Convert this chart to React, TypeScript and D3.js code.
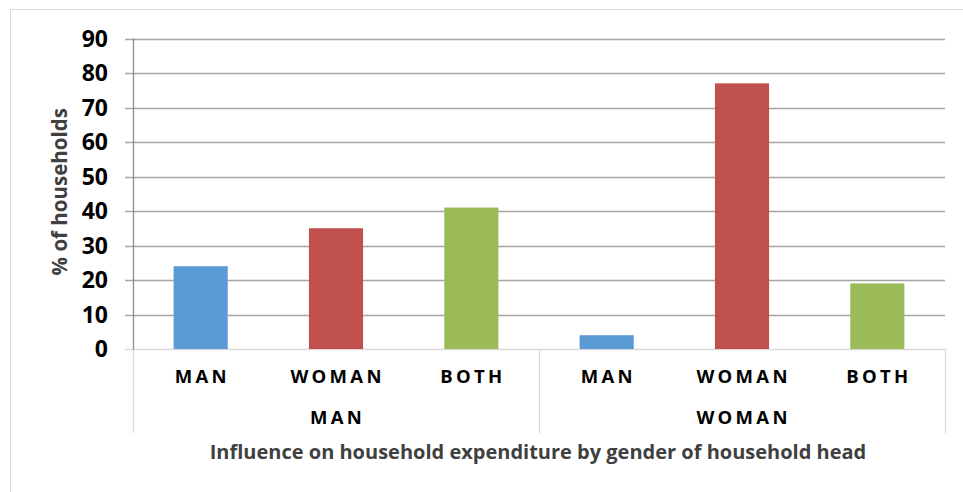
import React from "react";
import * as d3 from "d3";

const groups = ["MAN", "WOMAN"];
const categories = ["MAN", "WOMAN", "BOTH"];
const manHeadValues = [24, 35, 41];
const womanHeadValues = [4, 77, 19];
const yTicks = [0, 10, 20, 30, 40, 50, 60, 70, 80, 90];
const colors = ["#5B9BD5", "#C0504D", "#9BBB59"];
const xTitle = "Influence on household expenditure by gender of household head";
const yTitle = "% of households";

const W = 963;
const H = 492;
const left = 133;
const right = 945;
const top = 38.5;
const bottom = 349;

export default function App() {
  const seriesByGroup = [manHeadValues, womanHeadValues];
  const xOuter = d3.scaleBand<string>().domain(groups).range([left, right]).padding(0);
  const xInner = d3
    .scaleBand<string>()
    .domain(categories)
    .range([0, xOuter.bandwidth()])
    .paddingInner(0.6)
    .paddingOuter(0.3);
  const y = d3.scaleLinear().domain([0, 90]).range([bottom, top]);
  const font = "'Open Sans', 'Noto Sans', sans-serif";

  const sepXs = [left, ...groups.map((g) => (xOuter(g) as number) + xOuter.bandwidth())];

  return (
    <div style={{ position: "absolute", left: 0, top: 0 }}>
      <svg width={W} height={H} style={{ display: "block", background: "#fff" }}>
        <rect x={10.5} y={9.5} width={960} height={490} fill="#fff" stroke="#D9D9D9" strokeWidth={1} />
        {yTicks.map((t) => (
          <line
            key={"g" + t}
            x1={125}
            x2={right}
            y1={Math.round(y(t)) + 0.5}
            y2={Math.round(y(t)) + 0.5}
            stroke={t === 0 ? "#D9D9D9" : "#A6A6A6"}
            strokeWidth={1.3}
          />
        ))}
        {sepXs.map((sx, i) => (
          <line
            key={"s" + i}
            x1={Math.round(sx) + 0.5}
            x2={Math.round(sx) + 0.5}
            y1={bottom}
            y2={433}
            stroke="#D9D9D9"
            strokeWidth={1.3}
          />
        ))}
        {groups.map((g, gi) =>
          categories.map((c, ci) => {
            const v = seriesByGroup[gi][ci];
            const x0 = (xOuter(g) as number) + (xInner(c) as number);
            return (
              <rect
                key={g + c}
                x={x0}
                y={y(v)}
                width={xInner.bandwidth()}
                height={y(0) - y(v)}
                fill={colors[ci]}
              />
            );
          })
        )}
        <line x1={left + 0.5} x2={left + 0.5} y1={top} y2={bottom + 0.5} stroke="#8C8C8C" strokeWidth={1.3} />
        {yTicks.map((t) => (
          <text
            key={"t" + t}
            x={108}
            y={y(t)}
            dy="0.36em"
            textAnchor="end"
            fontFamily={font}
            fontWeight="bold"
            fontSize={23}
            fill="#000"
          >
            {t}
          </text>
        ))}
        {groups.map((g, gi) =>
          categories.map((c) => {
            const cx = (xOuter(g) as number) + (xInner(c) as number) + xInner.bandwidth() / 2;
            return (
              <text
                key={"c" + g + c}
                x={cx + 1.6}
                y={383}
                textAnchor="middle"
                fontFamily={font}
                fontWeight="bold"
                fontSize={18.5}
                letterSpacing={3.3}
                fill="#000"
              >
                {c}
              </text>
            );
          })
        )}
        {groups.map((g) => (
          <text
            key={"grp" + g}
            x={(xOuter(g) as number) + xOuter.bandwidth() / 2 + 1.6}
            y={424}
            textAnchor="middle"
            fontFamily={font}
            fontWeight="bold"
            fontSize={18.5}
            letterSpacing={3.3}
            fill="#000"
          >
            {g}
          </text>
        ))}
        <text
          x={538}
          y={459}
          textAnchor="middle"
          fontFamily={font}
          fontWeight="bold"
          fontSize={20}
          fill="#404040"
        >
          {xTitle}
        </text>
        <text
          transform={`translate(67, ${(top + bottom) / 2 - 2}) rotate(-90)`}
          textAnchor="middle"
          fontFamily={font}
          fontWeight="bold"
          fontSize={20.5}
          fill="#404040"
        >
          {yTitle}
        </text>
      </svg>
    </div>
  );
}
